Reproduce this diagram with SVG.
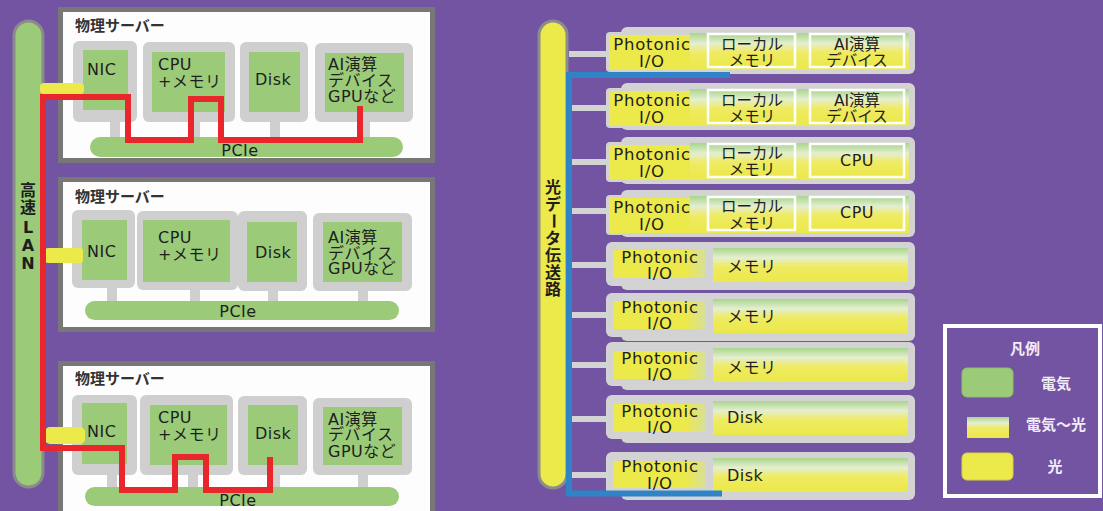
<svg xmlns="http://www.w3.org/2000/svg" width="1103" height="511" viewBox="0 0 1103 511">
  <defs>
    <!-- electric-to-optical blend: green on top, yellow at the bottom -->
    <linearGradient id="eo" x1="0" y1="0" x2="0" y2="1">
      <stop offset="0" stop-color="#a8d68c"/>
      <stop offset="0.28" stop-color="#e4eed0"/>
      <stop offset="0.55" stop-color="#efeb62"/>
      <stop offset="1" stop-color="#ebe84a"/>
    </linearGradient>
    <linearGradient id="pio" x1="0" y1="0" x2="1" y2="0">
      <stop offset="0" stop-color="#ece94b"/>
      <stop offset="0.78" stop-color="#ece94b"/>
      <stop offset="1" stop-color="#d6df9c"/>
    </linearGradient>
    <style>
      .srv { fill: #fdfdfd; stroke: #777; stroke-width: 5; }
      .gb { fill: #cfcfcf; }
      .gr { fill: #9bcb79; }
      .row { fill: #d3d3d3; }
      .yl { fill: #ece94b; }
      .mix { fill: url(#eo); }
      .mixb { fill: url(#eo); stroke: #fff; stroke-width: 2.5; }
      .pio { fill: url(#pio); }
      text { font-family: "DejaVu Sans", "Noto Sans CJK JP", sans-serif; fill: #1e1e1e; }
      .t { font-size: 16px; letter-spacing: 0.5px; }
      .ph { font-size: 16.5px; letter-spacing: 0.8px; }
      .tj { font-size: 15.5px; }
      .tt { font-size: 15px; font-weight: bold; fill: #333; }
      .c { text-anchor: middle; }
      .vt { font-size: 16px; font-weight: bold; text-anchor: middle; dominant-baseline: central; }
      .lg { font-family: "Noto Sans CJK JP", sans-serif; fill: #f2ecf8; font-size: 15px; font-weight: bold; text-anchor: middle; }
      .lan { fill: none; stroke: #e8262b; stroke-width: 6; }
      .opt { fill: none; stroke: #2f84c8; stroke-width: 6; }
      .stub { fill: #d3d3d3; }
    </style>
  </defs>

  <rect width="1103" height="511" fill="#7354a3"/>

  <!-- high-speed LAN backbone -->
  <g id="lan">
    <rect x="14" y="21" width="29" height="466" rx="14.5" class="gr" stroke="#8a8a8a" stroke-width="3"/>
    <text class="vt" x="28 28 28 28 28" y="190 207 227 245 263">高速LAN</text>
  </g>

  <!-- physical server 1 -->
  <g id="server1">
    <rect class="srv" x="60.5" y="9.5" width="372" height="151"/>
    <text class="tt" x="75" y="31">物理サーバー</text>
    <rect class="gb" x="110" y="118" width="10" height="22"/>
    <rect class="gb" x="190" y="118" width="10" height="22"/>
    <rect class="gb" x="270" y="118" width="10" height="22"/>
    <rect class="gb" x="360" y="118" width="10" height="22"/>
    <g id="s1-pcie">
      <rect class="gr" x="90" y="137" width="313" height="20" rx="10"/>
      <text class="t c" x="240" y="156">PCIe</text>
    </g>
    <g id="s1-nic">
      <rect class="gb" x="73" y="41" width="64" height="81" rx="6"/>
      <rect class="gr" x="83" y="50" width="45" height="60"/>
      <text class="t" x="87" y="75">NIC</text>
    </g>
    <g id="s1-cpu">
      <rect class="gb" x="143" y="42" width="92" height="80" rx="6"/>
      <rect class="gr" x="152" y="52" width="73" height="60"/>
      <text class="t" x="158" y="70">CPU</text>
      <text class="t" x="158" y="87">+メモリ</text>
    </g>
    <g id="s1-disk">
      <rect class="gb" x="240" y="42" width="68" height="80" rx="6"/>
      <rect class="gr" x="249" y="52" width="51" height="60"/>
      <text class="t" x="255" y="85">Disk</text>
    </g>
    <g id="s1-ai">
      <rect class="gb" x="315" y="43" width="98" height="79" rx="6"/>
      <rect class="gr" x="325" y="53" width="79" height="59"/>
      <text class="t" x="328" y="70">AI演算</text>
      <text class="t" x="328" y="86">デバイス</text>
      <text class="t" x="328" y="102">GPUなど</text>
    </g>
  </g>

  <!-- physical server 2 -->
  <g id="server2">
    <rect class="srv" x="60.5" y="179.5" width="372" height="150"/>
    <text class="tt" x="75" y="202">物理サーバー</text>
    <rect class="gb" x="107" y="287" width="10" height="16"/>
    <rect class="gb" x="190" y="287" width="10" height="16"/>
    <rect class="gb" x="268" y="287" width="10" height="16"/>
    <rect class="gb" x="358" y="287" width="10" height="16"/>
    <g id="s2-pcie">
      <rect class="gr" x="85" y="301" width="314" height="19" rx="9.5"/>
      <text class="t c" x="238" y="317">PCIe</text>
    </g>
    <g id="s2-nic">
      <rect class="gb" x="72" y="210" width="63" height="78" rx="6"/>
      <rect class="gr" x="82" y="220" width="45" height="60"/>
      <text class="t" x="87" y="257">NIC</text>
    </g>
    <g id="s2-cpu">
      <rect class="gb" x="137" y="211" width="101" height="79" rx="6"/>
      <rect class="gr" x="143" y="220" width="87" height="62"/>
      <text class="t" x="158" y="243">CPU</text>
      <text class="t" x="158" y="260">+メモリ</text>
    </g>
    <g id="s2-disk">
      <rect class="gb" x="238" y="211" width="69" height="80" rx="6"/>
      <rect class="gr" x="247" y="222" width="50" height="60"/>
      <text class="t" x="255" y="258">Disk</text>
    </g>
    <g id="s2-ai">
      <rect class="gb" x="313" y="213" width="99" height="78" rx="6"/>
      <rect class="gr" x="323" y="222" width="79" height="60"/>
      <text class="t" x="328" y="243">AI演算</text>
      <text class="t" x="328" y="259">デバイス</text>
      <text class="t" x="328" y="274">GPUなど</text>
    </g>
  </g>

  <!-- physical server 3 -->
  <g id="server3">
    <rect class="srv" x="60.5" y="363.5" width="372" height="160"/>
    <text class="tt" x="75" y="384">物理サーバー</text>
    <rect class="gb" x="107" y="473" width="10" height="16"/>
    <rect class="gb" x="188" y="473" width="10" height="16"/>
    <rect class="gb" x="270" y="473" width="10" height="16"/>
    <rect class="gb" x="358" y="473" width="10" height="16"/>
    <g id="s3-pcie">
      <rect class="gr" x="85" y="487" width="314" height="19" rx="9.5"/>
      <text class="t c" x="238" y="506">PCIe</text>
    </g>
    <g id="s3-nic">
      <rect class="gb" x="72" y="395" width="65" height="80" rx="6"/>
      <rect class="gr" x="82" y="403" width="45" height="61"/>
      <text class="t" x="87" y="437">NIC</text>
    </g>
    <g id="s3-cpu">
      <rect class="gb" x="140" y="395" width="93" height="80" rx="6"/>
      <rect class="gr" x="150" y="405" width="77" height="60"/>
      <text class="t" x="158" y="423">CPU</text>
      <text class="t" x="158" y="440">+メモリ</text>
    </g>
    <g id="s3-disk">
      <rect class="gb" x="238" y="396" width="69" height="79" rx="6"/>
      <rect class="gr" x="248" y="405" width="50" height="60"/>
      <text class="t" x="255" y="439">Disk</text>
    </g>
    <g id="s3-ai">
      <rect class="gb" x="313" y="398" width="99" height="77" rx="6"/>
      <rect class="gr" x="323" y="407" width="79" height="58"/>
      <text class="t" x="328" y="425">AI演算</text>
      <text class="t" x="328" y="440">デバイス</text>
      <text class="t" x="328" y="457">GPUなど</text>
    </g>
  </g>

  <!-- optical data bus -->
  <g id="optical-bus">
    <rect x="539" y="21" width="28" height="467" rx="14" class="yl" stroke="#8c8c8c" stroke-width="3"/>
    <text class="vt" x="553 553" y="187 204">光デ</text>
    <text class="vt" x="553" y="221" transform="rotate(90 553 221)">ー</text>
    <text class="vt" x="553 553 553 553" y="238 255 272 289">タ伝送路</text>
  </g>

  <!-- disaggregated modules: photonic I/O + device -->
  <g id="mod1">
    <rect class="row" x="621" y="27" width="294" height="47" rx="6"/>
    <rect class="row" x="606" y="32" width="30" height="40" rx="4"/>
    <rect class="mix" x="690" y="33" width="219" height="37"/>
    <rect class="yl" x="609" y="35" width="81" height="35"/>
    <rect class="mixb" x="708" y="34" width="87" height="33"/>
    <rect class="mixb" x="810" y="34" width="94" height="33"/>
    <text class="ph c" x="652" y="50">Photonic</text>
    <text class="ph c" x="652" y="67">I/O</text>
    <text class="tj c" x="752" y="50">ローカル</text>
    <text class="tj c" x="752" y="66">メモリ</text>
    <text class="tj c" x="857" y="50">AI演算</text>
    <text class="tj c" x="857" y="66">デバイス</text>
  </g>
  <g id="mod2">
    <rect class="row" x="621" y="83" width="294" height="47" rx="6"/>
    <rect class="row" x="606" y="88" width="30" height="40" rx="4"/>
    <rect class="mix" x="690" y="89" width="219" height="37"/>
    <rect class="yl" x="609" y="91" width="81" height="35"/>
    <rect class="mixb" x="708" y="90" width="87" height="33"/>
    <rect class="mixb" x="810" y="90" width="94" height="33"/>
    <text class="ph c" x="652" y="106">Photonic</text>
    <text class="ph c" x="652" y="123">I/O</text>
    <text class="tj c" x="752" y="106">ローカル</text>
    <text class="tj c" x="752" y="122">メモリ</text>
    <text class="tj c" x="857" y="106">AI演算</text>
    <text class="tj c" x="857" y="122">デバイス</text>
  </g>
  <g id="mod3">
    <rect class="row" x="621" y="137" width="294" height="47" rx="6"/>
    <rect class="row" x="606" y="142" width="30" height="40" rx="4"/>
    <rect class="mix" x="690" y="143" width="219" height="37"/>
    <rect class="yl" x="609" y="145" width="81" height="35"/>
    <rect class="mixb" x="708" y="144" width="87" height="33"/>
    <rect class="mixb" x="810" y="144" width="94" height="33"/>
    <text class="ph c" x="652" y="160">Photonic</text>
    <text class="ph c" x="652" y="177">I/O</text>
    <text class="tj c" x="752" y="159">ローカル</text>
    <text class="tj c" x="752" y="175">メモリ</text>
    <text class="t c" x="857" y="166" font-size="17">CPU</text>
  </g>
  <g id="mod4">
    <rect class="row" x="621" y="190" width="294" height="47" rx="6"/>
    <rect class="row" x="606" y="195" width="30" height="40" rx="4"/>
    <rect class="mix" x="690" y="196" width="219" height="37"/>
    <rect class="yl" x="609" y="198" width="81" height="35"/>
    <rect class="mixb" x="708" y="197" width="87" height="33"/>
    <rect class="mixb" x="810" y="197" width="94" height="33"/>
    <text class="ph c" x="652" y="213">Photonic</text>
    <text class="ph c" x="652" y="230">I/O</text>
    <text class="tj c" x="752" y="212">ローカル</text>
    <text class="tj c" x="752" y="229">メモリ</text>
    <text class="t c" x="857" y="218" font-size="17">CPU</text>
  </g>
  <g id="mod5">
    <rect class="row" x="606" y="242" width="309" height="44" rx="6"/>
    <rect class="row" x="621" y="246" width="294" height="44" rx="6"/>
    <rect class="pio" x="613" y="250" width="93" height="28"/>
    <rect class="mix" x="713" y="248" width="195" height="34"/>
    <text class="ph c" x="660" y="263">Photonic</text>
    <text class="ph c" x="660" y="279">I/O</text>
    <text class="t" x="727" y="272">メモリ</text>
  </g>
  <g id="mod6">
    <rect class="row" x="606" y="293" width="309" height="44" rx="6"/>
    <rect class="row" x="621" y="297" width="294" height="44" rx="6"/>
    <rect class="pio" x="613" y="301" width="93" height="28"/>
    <rect class="mix" x="713" y="299" width="195" height="34"/>
    <text class="ph c" x="660" y="313">Photonic</text>
    <text class="ph c" x="660" y="329">I/O</text>
    <text class="t" x="727" y="322">メモリ</text>
  </g>
  <g id="mod7">
    <rect class="row" x="606" y="342" width="309" height="44" rx="6"/>
    <rect class="row" x="621" y="346" width="294" height="44" rx="6"/>
    <rect class="pio" x="613" y="351" width="93" height="28"/>
    <rect class="mix" x="713" y="348" width="195" height="34"/>
    <text class="ph c" x="660" y="364">Photonic</text>
    <text class="ph c" x="660" y="380">I/O</text>
    <text class="t" x="727" y="373">メモリ</text>
  </g>
  <g id="mod8">
    <rect class="row" x="606" y="395" width="309" height="44" rx="6"/>
    <rect class="row" x="621" y="399" width="294" height="44" rx="6"/>
    <rect class="pio" x="613" y="404" width="93" height="28"/>
    <rect class="mix" x="713" y="401" width="195" height="34"/>
    <text class="ph c" x="660" y="417">Photonic</text>
    <text class="ph c" x="660" y="433">I/O</text>
    <text class="t" x="727" y="423">Disk</text>
  </g>
  <g id="mod9">
    <rect class="row" x="606" y="452" width="309" height="44" rx="6"/>
    <rect class="row" x="621" y="456" width="294" height="44" rx="6"/>
    <rect class="pio" x="613" y="461" width="93" height="27"/>
    <rect class="mix" x="713" y="458" width="195" height="34"/>
    <text class="ph c" x="660" y="472">Photonic</text>
    <text class="ph c" x="660" y="489">I/O</text>
    <text class="t" x="727" y="481">Disk</text>
  </g>

  <!-- links -->
  <g id="connectors">
    <rect class="yl" x="40" y="83" width="44" height="11" rx="4"/>
    <rect class="yl" x="45" y="248" width="38" height="15" rx="3"/>
    <rect class="yl" x="45" y="427" width="40" height="17" rx="5"/>
    <path class="lan" d="M360,106 V140 H221 V99 H191 V140 H128 V97 H43 V448 H122 V490 H175 V457 H206 V490 H270 V457"/>
    <rect class="stub" x="569" y="51" width="39" height="6"/>
    <rect class="stub" x="569" y="105" width="39" height="6"/>
    <rect class="stub" x="569" y="159" width="39" height="6"/>
    <rect class="stub" x="569" y="208" width="39" height="6"/>
    <rect class="stub" x="569" y="262" width="39" height="6"/>
    <rect class="stub" x="569" y="312" width="39" height="6"/>
    <rect class="stub" x="569" y="362" width="39" height="6"/>
    <rect class="stub" x="569" y="416" width="39" height="6"/>
    <rect class="stub" x="569" y="472" width="39" height="6"/>
    <path class="opt" d="M730,75 H569 V493.5 H722"/>
  </g>

  <!-- legend -->
  <g id="legend">
    <rect x="945" y="326" width="155" height="170" fill="none" stroke="#fff" stroke-width="4"/>
    <text class="lg" x="1025" y="354" font-size="16">凡例</text>
    <rect x="962" y="368" width="51" height="29" rx="5" class="gr" stroke="#8dbf6c" stroke-width="1"/>
    <text class="lg" x="1056" y="389">電気</text>
    <rect x="967" y="417" width="42" height="21" class="mix"/>
    <text class="lg" x="1056" y="430">電気〜光</text>
    <rect x="962" y="453" width="51" height="27" rx="5" class="yl" stroke="#d8d040" stroke-width="1"/>
    <text class="lg" x="1055" y="472">光</text>
  </g>
</svg>
